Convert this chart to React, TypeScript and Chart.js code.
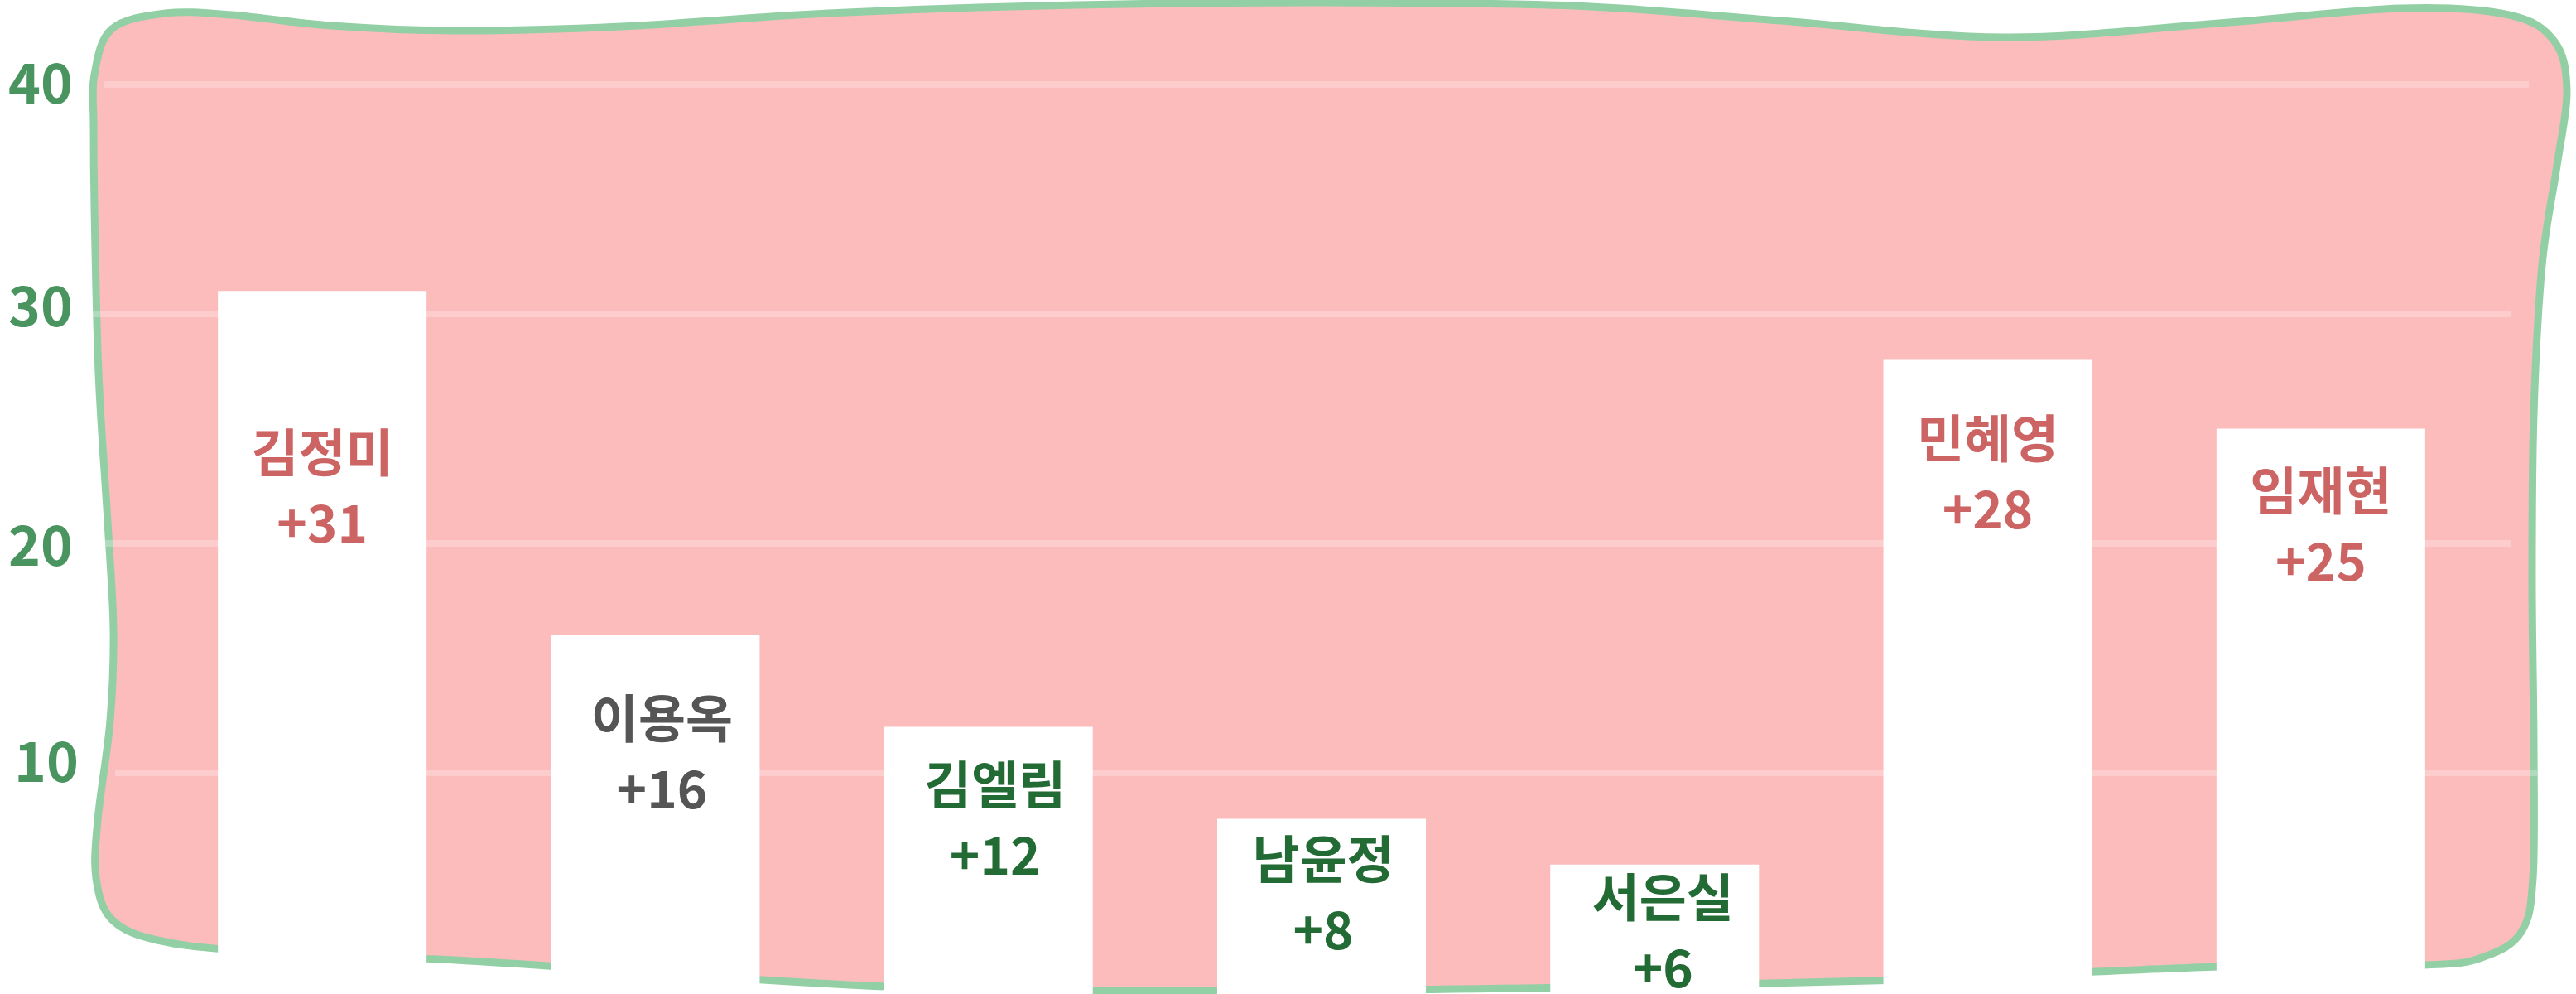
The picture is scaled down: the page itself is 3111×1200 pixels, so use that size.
import React, { useEffect, useRef } from "react";
import { Chart, registerables } from "chart.js";

Chart.register(...registerables);

// ---- data ----
const CATEGORIES = ["김정미", "이용옥", "김엘림", "남윤정", "서은실", "민혜영", "임재현"];
const VALUES = [31, 16, 12, 8, 6, 28, 25];
const Y_TICKS = [10, 20, 30, 40];

// ---- styling / layout (not data) ----
const LABEL_COLORS = ["#cd6464", "#555555", "#236b35", "#236b35", "#236b35", "#cd6464", "#cd6464"];
const LABEL_DROP = [195, 101, 70, 49, 40, 95, 75];
const LABEL_DX = [0, 8, 8, 2, 10, 0, 0];
const LINE_GAP = 85;
const FONT = "'Noto Sans CJK KR', 'Noto Sans', sans-serif";
const PINK = "#fdbcbc";
const STROKE = "#93cfa5";
const TICK_GREEN = "#4a9460";
// per-tick (10,20,30,40) gridline extents and tick-label right edges
const GRID_START = [139, 106, 107, 126];
const GRID_END = [3064, 3032, 3032, 3054];
const TICK_RIGHT = [95, 88, 88, 88];
const TICK_SHIFT = [-14, 2, -10, -2];

// decorative blob outline (canvas px), clockwise
const BLOB: [number, number][] = [
  [114, 90], [135, 35], [200, 16], [280, 18], [400, 31], [550, 37], [750, 32], [1000, 16],
  [1300, 6], [1600, 3], [1900, 7], [2150, 25], [2420, 45], [2680, 28], [2900, 10],
  [3030, 18], [3085, 50], [3100, 110],
  [3088, 200], [3070, 320], [3060, 500], [3058, 700], [3060, 900], [3059, 1060],
  [3045, 1125], [3000, 1155], [2928, 1165],
  [2680, 1167], [2300, 1183], [1900, 1192], [1500, 1196], [1100, 1192], [800, 1175],
  [550, 1159], [300, 1148], [190, 1135], [135, 1110],
  [116, 1060], [118, 990], [133, 870], [137, 760], [130, 630], [119, 450], [114, 250],
  [113, 150],
];

function blobPath(ctx: CanvasRenderingContext2D, pts: [number, number][]) {
  const n = pts.length;
  ctx.beginPath();
  ctx.moveTo(pts[0][0], pts[0][1]);
  for (let i = 0; i < n; i++) {
    const p0 = pts[(i - 1 + n) % n];
    const p1 = pts[i];
    const p2 = pts[(i + 1) % n];
    const p3 = pts[(i + 2) % n];
    const c1x = p1[0] + (p2[0] - p0[0]) / 6;
    const c1y = p1[1] + (p2[1] - p0[1]) / 6;
    const c2x = p2[0] - (p3[0] - p1[0]) / 6;
    const c2y = p2[1] - (p3[1] - p1[1]) / 6;
    ctx.bezierCurveTo(c1x, c1y, c2x, c2y, p2[0], p2[1]);
  }
  ctx.closePath();
}

const backdropPlugin = {
  id: "backdrop",
  beforeDatasetsDraw(chart: any) {
    const ctx: CanvasRenderingContext2D = chart.ctx;
    const y = chart.scales.y;
    ctx.save();
    blobPath(ctx, BLOB);
    ctx.fillStyle = PINK;
    ctx.fill();
    ctx.lineWidth = 9;
    ctx.strokeStyle = STROKE;
    ctx.lineJoin = "round";
    ctx.stroke();
    ctx.strokeStyle = "rgba(255,255,255,0.25)";
    ctx.lineWidth = 8;
    Y_TICKS.forEach((t, i) => {
      const py = y.getPixelForValue(t);
      ctx.beginPath();
      ctx.moveTo(GRID_START[i], py);
      ctx.lineTo(GRID_END[i], py);
      ctx.stroke();
    });
    // tick labels
    ctx.fillStyle = TICK_GREEN;
    ctx.font = `bold 66px ${FONT}`;
    ctx.textAlign = "right";
    ctx.textBaseline = "middle";
    Y_TICKS.forEach((t, i) => {
      const py = y.getPixelForValue(t);
      ctx.fillText(String(t), TICK_RIGHT[i], py + TICK_SHIFT[i]);
    });
    ctx.restore();
  },
};

const barLabelPlugin = {
  id: "barLabels",
  afterDatasetsDraw(chart: any) {
    const ctx: CanvasRenderingContext2D = chart.ctx;
    const meta = chart.getDatasetMeta(0);
    ctx.save();
    ctx.textAlign = "center";
    ctx.textBaseline = "middle";
    ctx.font = `bold 62px ${FONT}`;
    meta.data.forEach((bar: any, i: number) => {
      const top = bar.y + LABEL_DROP[i];
      const cx = bar.x + LABEL_DX[i];
      ctx.fillStyle = LABEL_COLORS[i];
      ctx.fillText(CATEGORIES[i], cx, top);
      ctx.fillText(`+${VALUES[i]}`, cx, top + LINE_GAP);
    });
    ctx.restore();
  },
};

export default function App() {
  const ref = useRef<HTMLCanvasElement | null>(null);
  useEffect(() => {
    if (!ref.current) return;
    const chart = new Chart(ref.current, {
      type: "bar",
      data: {
        labels: CATEGORIES,
        datasets: [
          {
            data: VALUES,
            backgroundColor: "#ffffff",
            borderWidth: 0,
            categoryPercentage: 1,
            barPercentage: 0.6264,
          },
        ],
      },
      options: {
        animation: false,
        responsive: false,
        devicePixelRatio: 1,
        layout: { padding: { left: 188, right: 107, top: 102, bottom: 1 } },
        plugins: { legend: { display: false }, tooltip: { enabled: false } },
        scales: {
          x: { display: false },
          y: { display: false, min: 0, max: 40 },
        },
      },
      plugins: [backdropPlugin, barLabelPlugin],
    });
    return () => chart.destroy();
  }, []);
  return (
    <div
      style={{
        position: "fixed",
        left: 0,
        top: 0,
        width: 3111,
        height: 1200,
        overflow: "hidden",
        background: "#ffffff",
      }}
    >
      <canvas ref={ref} width={3111} height={1211} style={{ display: "block" }} />
    </div>
  );
}
